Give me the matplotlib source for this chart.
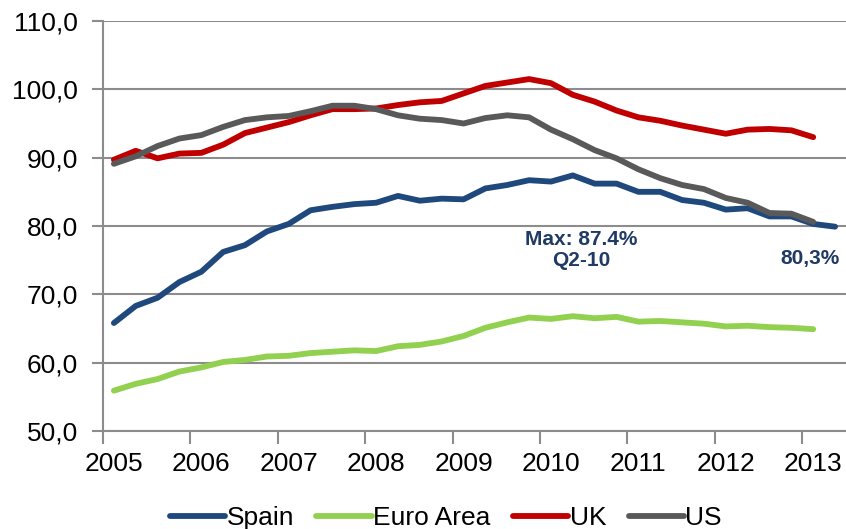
import matplotlib
matplotlib.use("Agg")
import matplotlib.pyplot as plt
from matplotlib.ticker import FuncFormatter, FixedLocator

# ==============================
# Data (quarterly, Q1-2005 .. Q2-2013)
# ==============================
years = ["2005", "2006", "2007", "2008", "2009", "2010", "2011", "2012", "2013"]

spain = [65.8, 68.3, 69.5, 71.8, 73.3, 76.2, 77.2, 79.2, 80.3, 82.3, 82.8, 83.2,
         83.4, 84.4, 83.7, 84.0, 83.9, 85.5, 86.0, 86.7, 86.5, 87.4, 86.2, 86.2,
         85.0, 85.0, 83.8, 83.4, 82.4, 82.6, 81.4, 81.4, 80.3, 79.9]
euro_area = [55.9, 56.9, 57.6, 58.7, 59.3, 60.1, 60.4, 60.9, 61.0, 61.4, 61.6, 61.8,
             61.7, 62.4, 62.6, 63.1, 63.9, 65.1, 65.9, 66.6, 66.4, 66.8, 66.5, 66.7,
             66.0, 66.1, 65.9, 65.7, 65.3, 65.4, 65.2, 65.1, 64.9]
uk = [89.7, 91.0, 89.9, 90.6, 90.7, 91.9, 93.6, 94.4, 95.2, 96.2, 97.1, 97.1,
      97.2, 97.7, 98.1, 98.3, 99.4, 100.5, 101.0, 101.5, 100.9, 99.2, 98.2, 96.9,
      95.9, 95.4, 94.7, 94.1, 93.5, 94.1, 94.2, 94.0, 93.0]
us = [89.1, 90.2, 91.7, 92.8, 93.3, 94.5, 95.5, 95.9, 96.1, 96.8, 97.6, 97.6,
      97.1, 96.2, 95.7, 95.5, 95.0, 95.8, 96.2, 95.9, 94.1, 92.7, 91.1, 89.9,
      88.3, 87.0, 86.0, 85.4, 84.1, 83.4, 81.9, 81.8, 80.6]

max_label = "Max: 87.4%\nQ2-10"
last_label = "80,3%"

# ==============================
# Settings
# ==============================
plt.rcParams["font.family"] = ["Liberation Sans", "DejaVu Sans"]
GRID_COLOR = "#8c8c8c"
TEXT_COLOR = "#1f3a63"

series = [
    ("Spain", spain, "#1f497d"),
    ("Euro Area", euro_area, "#92d050"),
    ("UK", uk, "#c00000"),
    ("US", us, "#595959"),
]

fig = plt.figure(figsize=(8.46, 5.29), dpi=100)
ax = fig.add_axes([0.1217, 0.1853, 0.8783, 0.775])

for name, vals, col in series:
    ax.plot(range(len(vals)), vals, color=col, linewidth=4.2,
            solid_capstyle="round", solid_joinstyle="round", label=name)

ax.set_xlim(-0.5, 33.5)
ax.set_ylim(50, 110)
ax.set_yticks(range(50, 111, 10))
ax.yaxis.set_major_formatter(FuncFormatter(lambda v, p: f"{v:.1f}".replace(".", ",")))

# tick marks between years, labels centred on Q1 points
ax.xaxis.set_major_locator(FixedLocator([-0.5 + 4 * k for k in range(len(years))]))
ax.xaxis.set_major_formatter(FuncFormatter(lambda v, p: ""))
ax.set_xticks([4 * k for k in range(len(years))], labels=years, minor=True)

ax.tick_params(axis="x", which="major", direction="out", length=9, width=1.5,
               color=GRID_COLOR)
ax.tick_params(axis="x", which="minor", length=0, pad=15, labelsize=19)
ax.tick_params(axis="y", direction="out", length=8, width=1.5, color=GRID_COLOR,
               pad=10, labelsize=19)

ax.grid(True, axis="y", color=GRID_COLOR, linewidth=1.5)
ax.set_axisbelow(True)
for s in ["top", "right"]:
    ax.spines[s].set_visible(False)
for s in ["left", "bottom"]:
    ax.spines[s].set_color(GRID_COLOR)
    ax.spines[s].set_linewidth(1.5)

# annotations
ax.text(21.4, 76.5, max_label, ha="center", va="center", fontsize=15,
        fontweight="bold", color=TEXT_COLOR, linespacing=1.1)
ax.text(31.85, 75.2, last_label, ha="center", va="center", fontsize=15,
        fontweight="bold", color=TEXT_COLOR)

fig.legend(loc="center", bbox_to_anchor=(0.527, 0.02), ncol=4, frameon=False,
           fontsize=19, handlelength=2.1, handletextpad=0.05, columnspacing=0.85,
           borderpad=0)

fig.savefig("out.png", dpi=100)
